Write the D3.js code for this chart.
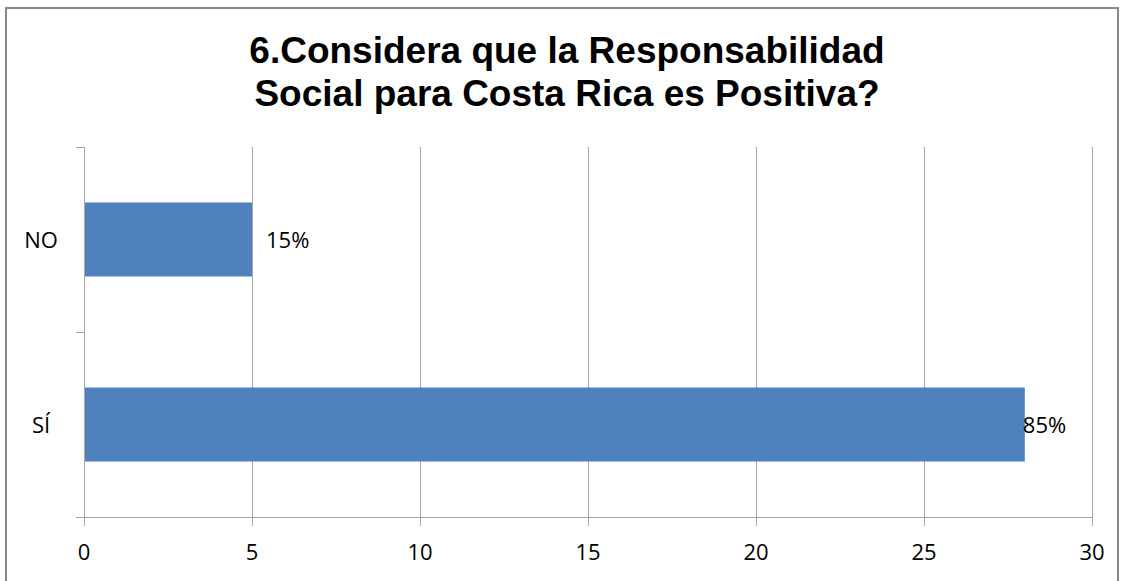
<!DOCTYPE html>
<html><head><meta charset="utf-8">
<script src="https://cdn.jsdelivr.net/npm/d3@7"></script>
<style>body{margin:0;background:#fff;}svg{display:block;}</style>
</head><body>
<script>
const categories = ["NO", "SÍ"];
const values = [5, 28];
const valueLabels = ["15%", "85%"];
const xTicks = [0, 5, 10, 15, 20, 25, 30];
const titleLines = ["6.Considera que la Responsabilidad", "Social para Costa Rica es Positiva?"];

(function () {
const W = 1124, H = 581;
const svg = d3.select("body").append("svg").attr("width", W).attr("height", H);
svg.append("rect").attr("width", W).attr("height", H).attr("fill", "#fff");
svg.append("rect").attr("x", 6).attr("y", 8).attr("width", 1112).attr("height", 585)
  .attr("fill", "none").attr("stroke", "#8a8a8a").attr("stroke-width", 2);

const pL = 84, pR = 1092, pT = 147, pB = 517;
const x = d3.scaleLinear().domain([0, 30]).range([pL, pR]);
const y = d3.scaleBand().domain(categories).range([pT, pB]).paddingInner(0.6).paddingOuter(0.3);
const lblFont = "'Open Sans', 'Liberation Sans', sans-serif";

// gridlines
svg.append("g").selectAll("line").data(xTicks).join("line")
  .attr("x1", d => x(d) + 0.5).attr("x2", d => x(d) + 0.5)
  .attr("y1", pT).attr("y2", pB + 9)
  .attr("stroke", "#a6a6a6").attr("stroke-width", 1);

// bars
svg.append("g").selectAll("rect").data(values).join("rect")
  .attr("x", x(0) + 1).attr("y", (d, i) => y(categories[i]))
  .attr("width", d => x(d) - x(0) - 1).attr("height", y.bandwidth())
  .attr("fill", "#4f81bd");

// y axis line and ticks
svg.append("line").attr("x1", pL + 0.5).attr("x2", pL + 0.5).attr("y1", pT).attr("y2", pB)
  .attr("stroke", "#a6a6a6");
const yTickPos = [pT, (pT + pB) / 2, pB];
svg.append("g").selectAll("line").data(yTickPos).join("line")
  .attr("x1", pL - 8).attr("x2", pL).attr("y1", d => Math.round(d) + 0.5).attr("y2", d => Math.round(d) + 0.5)
  .attr("stroke", "#a6a6a6");
// x axis line
svg.append("line").attr("x1", pL - 8).attr("x2", pR + 0.5).attr("y1", pB + 0.5).attr("y2", pB + 0.5)
  .attr("stroke", "#a6a6a6");

// x tick labels
svg.append("g").selectAll("text").data(xTicks).join("text")
  .attr("x", d => x(d)).attr("y", 560).attr("text-anchor", "middle")
  .attr("font-family", lblFont).attr("font-size", 22).attr("fill", "#000")
  .text(d => d);

// category labels
svg.append("g").selectAll("text").data(categories).join("text")
  .attr("x", 41).attr("y", d => y(d) + y.bandwidth() / 2 + 8).attr("text-anchor", "middle")
  .attr("font-family", lblFont).attr("font-size", 22).attr("fill", "#000")
  .text(d => d);

// value labels
svg.append("g").selectAll("text").data(values).join("text")
  .attr("x", (d, i) => i === 0 ? x(d) + 14 : x(d) - 2)
  .attr("y", (d, i) => y(categories[i]) + y.bandwidth() / 2 + 8)
  .attr("font-family", lblFont).attr("font-size", 22).attr("fill", "#000")
  .text((d, i) => valueLabels[i]);

// title
svg.append("g").selectAll("text").data(titleLines).join("text")
  .attr("x", 567).attr("y", (d, i) => 63 + i * 43).attr("text-anchor", "middle")
  .attr("font-family", "'Liberation Sans', Arial, sans-serif").attr("font-weight", "bold")
  .attr("font-size", 37).attr("fill", "#000")
  .text(d => d);
})();
</script>
</body></html>
